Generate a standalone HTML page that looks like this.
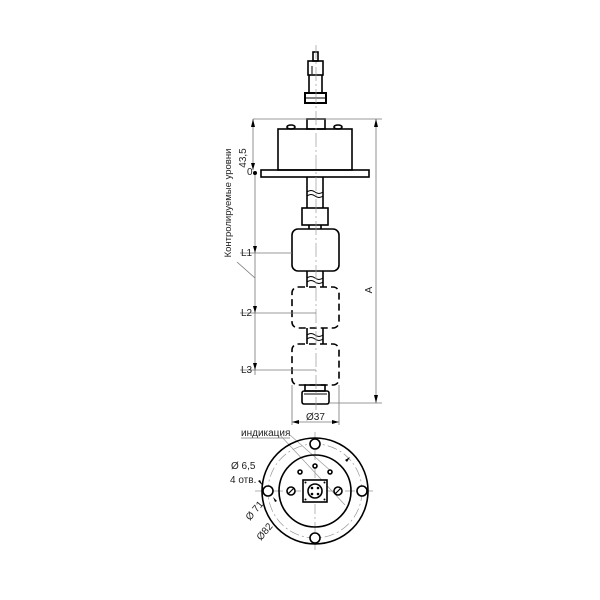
<!DOCTYPE html>
<html><head><meta charset="utf-8"><style>body{margin:0;background:#fff}svg{display:block}</style></head>
<body>
<svg width="600" height="600" viewBox="0 0 600 600" xmlns="http://www.w3.org/2000/svg" font-family="Liberation Sans, sans-serif">
<rect width="600" height="600" fill="#fff"/>
<g stroke="#000" fill="none" stroke-width="1.6">
<!-- connector plug -->
<rect x="313" y="52" width="5" height="9" fill="#fff"/>
<rect x="308" y="61" width="15" height="14"/>
<line x1="309" y1="75" x2="309" y2="93"/><line x1="322" y1="75" x2="322" y2="93"/>
<line x1="312" y1="66" x2="312" y2="74" stroke-width="1"/>
<rect x="305" y="93" width="21" height="10" stroke-width="2"/>
<line x1="306" y1="98" x2="325" y2="98" stroke-width="1"/>
<!-- flange -->
<rect x="307" y="119" width="18" height="10"/>
<rect x="278" y="129" width="74" height="41"/>
<rect x="261" y="170" width="108" height="7"/>
<ellipse cx="291" cy="127" rx="4" ry="2"/>
<ellipse cx="338" cy="127" rx="4" ry="2"/>
<!-- stem -->
<line x1="307" y1="177" x2="307" y2="208"/><line x1="323" y1="177" x2="323" y2="208"/>
<path d="M307 192 q4 -3 8 0 t8 0 M307 196 q4 -3 8 0 t8 0" stroke-width="1"/>
<rect x="302" y="208" width="26" height="17"/>
<line x1="309" y1="225" x2="309" y2="229"/><line x1="321" y1="225" x2="321" y2="229"/>
<rect x="292" y="229" width="47" height="42" rx="6"/>
<line x1="307" y1="271" x2="307" y2="287"/><line x1="323" y1="271" x2="323" y2="287"/>
<path d="M307 278 q4 -3 8 0 t8 0 M307 282 q4 -3 8 0 t8 0" stroke-width="1"/>
<rect x="292" y="287" width="47" height="41" rx="6" stroke-dasharray="7,4"/>
<line x1="307" y1="328" x2="307" y2="344"/><line x1="323" y1="328" x2="323" y2="344"/>
<path d="M307 335 q4 -3 8 0 t8 0 M307 339 q4 -3 8 0 t8 0" stroke-width="1"/>
<rect x="292" y="344" width="47" height="41" rx="6" stroke-dasharray="7,4"/>
<rect x="305" y="385" width="20" height="6"/>
<rect x="302" y="391" width="27" height="13" rx="2"/>
<line x1="304" y1="394" x2="327" y2="394" stroke-width="1"/>
</g>
<!-- centerline -->
<line x1="316" y1="45" x2="316" y2="410" stroke="#999" stroke-width="0.7" stroke-dasharray="14,3,2,3"/>
<!-- dimensions -->
<g stroke="#777" stroke-width="0.8" fill="none">
<line x1="253" y1="119" x2="382" y2="119"/>
<line x1="253" y1="119" x2="253" y2="170"/>
<line x1="376" y1="119" x2="376" y2="403"/>
<line x1="329" y1="403" x2="382" y2="403"/>
<line x1="255" y1="172" x2="255" y2="375"/>
<line x1="240" y1="253" x2="292" y2="253"/>
<line x1="240" y1="313" x2="316" y2="313"/>
<line x1="240" y1="370" x2="316" y2="370"/>
<line x1="237" y1="262" x2="255" y2="278"/>
<line x1="292" y1="385" x2="292" y2="425"/>
<line x1="339" y1="385" x2="339" y2="425"/>
<line x1="292" y1="422" x2="339" y2="422"/>
</g>
<g fill="#000">
<path d="M253 119 l-2 8 h4z"/><path d="M376 119 l-2 8 h4z"/><path d="M376 403 l-2 -8 h4z"/>
<path d="M253 170 l-2 -7 h4z"/>
<path d="M255 253 l-2 -7 h4z"/><path d="M255 313 l-2 -7 h4z"/><path d="M255 370 l-2 -7 h4z"/>
<path d="M292 422 l7 -2 v4z"/><path d="M339 422 l-7 -2 v4z"/>
<circle cx="255" cy="173" r="2"/>
</g>
<g font-size="10" fill="#222">
<text x="246" y="158" transform="rotate(-90 246 158)" text-anchor="middle">43,5</text>
<text x="247" y="175">0</text>
<text x="231" y="203" transform="rotate(-90 231 203)" text-anchor="middle" font-size="9.5">Контролируемые уровни</text>
<text x="241" y="256">L1</text>
<text x="241" y="316">L2</text>
<text x="241" y="373">L3</text>
<text x="372" y="290" transform="rotate(-90 372 290)" text-anchor="middle">A</text>
<text x="306" y="420">Ø37</text>
<text x="241" y="436">индикация</text>
<text x="231" y="469">Ø 6,5</text>
<text x="230" y="483">4 отв.</text>
<text x="250" y="521" transform="rotate(-50 250 521)">Ø 71</text>
<text x="261" y="541" transform="rotate(-50 261 541)">Ø82</text>
</g>
<line x1="241" y1="438" x2="290" y2="438" stroke="#777" stroke-width="0.7"/>
<!-- plan view -->
<g stroke="#999" stroke-width="0.7" fill="none" stroke-dasharray="10,3,2,3">
<line x1="255" y1="491" x2="375" y2="491"/>
<line x1="315" y1="432" x2="315" y2="550"/>
<circle cx="315" cy="491" r="47"/>
<line x1="280" y1="435" x2="345" y2="505" stroke-dasharray="none"/>
<line x1="290" y1="435" x2="332" y2="472" stroke-dasharray="none"/>
</g>
<g stroke="#000" stroke-width="1.6" fill="#fff">
<circle cx="315" cy="491" r="53" fill="none"/>
<circle cx="315" cy="491" r="36" fill="none"/>
<circle cx="315" cy="444" r="5"/><circle cx="315" cy="538" r="5"/>
<circle cx="268" cy="491" r="5"/><circle cx="362" cy="491" r="5"/>
<rect x="303" y="480" width="24" height="22"/>
<circle cx="315" cy="491" r="7"/>
<circle cx="291" cy="491" r="4"/><circle cx="338" cy="491" r="4"/>
<circle cx="315" cy="466" r="2"/><circle cx="300" cy="472" r="2"/><circle cx="330" cy="472" r="2"/>
</g>
<g stroke="#000" stroke-width="1.2">
<line x1="288" y1="494" x2="294" y2="488"/><line x1="335" y1="494" x2="341" y2="488"/>
</g>
<g fill="#000">
<circle cx="312" cy="488" r="1.3"/><circle cx="318" cy="488" r="1.3"/><circle cx="312" cy="494" r="1.3"/><circle cx="318" cy="494" r="1.3"/>
<circle cx="305.5" cy="482.5" r="1"/><circle cx="324.5" cy="482.5" r="1"/><circle cx="305.5" cy="499.5" r="1"/><circle cx="324.5" cy="499.5" r="1"/>
<path d="M263 486 l-5 -5 l2 -1z"/><path d="M273 497 l4 4 l-2 1z"/>
<path d="M350 457 l-3 5 l-2 -2z"/>
</g>
</svg>
</body></html>
